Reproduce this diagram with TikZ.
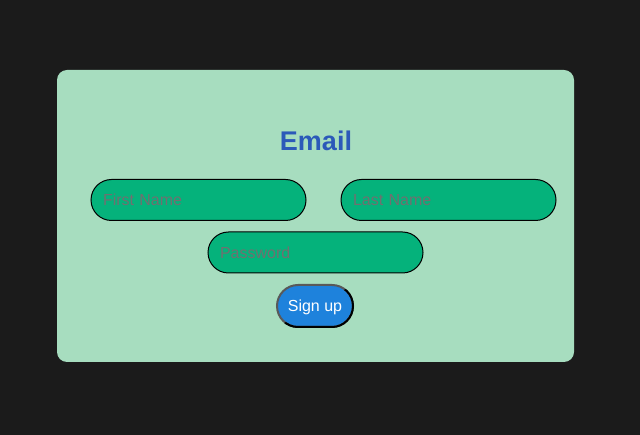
\documentclass[tikz,border=0pt]{standalone}
\usepackage{fontspec}
\setmainfont{Liberation Sans}
\usetikzlibrary{positioning}
\definecolor{seite}{RGB}{27,27,27}
\definecolor{karte}{RGB}{167,221,191}
\definecolor{feld}{RGB}{5,178,123}
\definecolor{hinweis}{RGB}{112,112,112}
\definecolor{titel}{RGB}{43,89,185}
\definecolor{knopf}{RGB}{30,130,220}
\tikzset{
    %Define style for the card
    kartebox/.style={
           rectangle,
           rounded corners=10pt,
           fill=karte,
           minimum width=517pt,
           minimum height=292pt},
    %Define style for input fields
    feldbox/.style={
           rectangle,
           rounded corners=20.5pt,
           fill=feld,
           draw=black, line width=1pt,
           minimum width=215pt,
           minimum height=41pt,
           text width=191pt,
           inner xsep=12pt,
           align=left,
           text height=11.5pt, text depth=0pt,
           text=hinweis,
           font=\fontsize{16}{19}\selectfont},
    % Define button style
    knopfbox/.style={
           rectangle,
           rounded corners=21pt,
           fill=knopf,
           draw=black!65, line width=2pt,
           outer sep=0pt,
           minimum width=76pt,
           minimum height=42pt,
           text height=11.5pt, text depth=0pt,
           text=white,
           font=\fontsize{16}{19}\selectfont},
    titelbox/.style={
           text=titel,
           font=\fontsize{27}{32}\selectfont\bfseries}
}

\begin{document}
\begin{tikzpicture}[x=1pt,y=-1pt]
  \fill[seite] (0,0) rectangle (640,435);
  \useasboundingbox (0,0) rectangle (640,435);
  \node[kartebox] (karte) at (315.5,216) {};
  \node[titelbox, anchor=base] (titel) at (316,150.5) {Email};
  \node[feldbox] (vorname) at (198.5,200) {First Name};
  \node[feldbox, right=34pt of vorname] (nachname) {Last Name};
  \node[feldbox] (passwort) at (315.5,252.5) {Password};
  \node[knopfbox] (anmelden) at (315,306) {Sign up};
  % dark lower right half of the button border
  \begin{scope}
    \clip (anmelden.south west) -- (anmelden.north east)
      -- ([xshift=4pt]anmelden.north east) |- ([yshift=-4pt]anmelden.south west) -- cycle;
    \draw[black, line width=2pt, rounded corners=21pt]
      (anmelden.south west) rectangle (anmelden.north east);
  \end{scope}
\end{tikzpicture}
\end{document}
